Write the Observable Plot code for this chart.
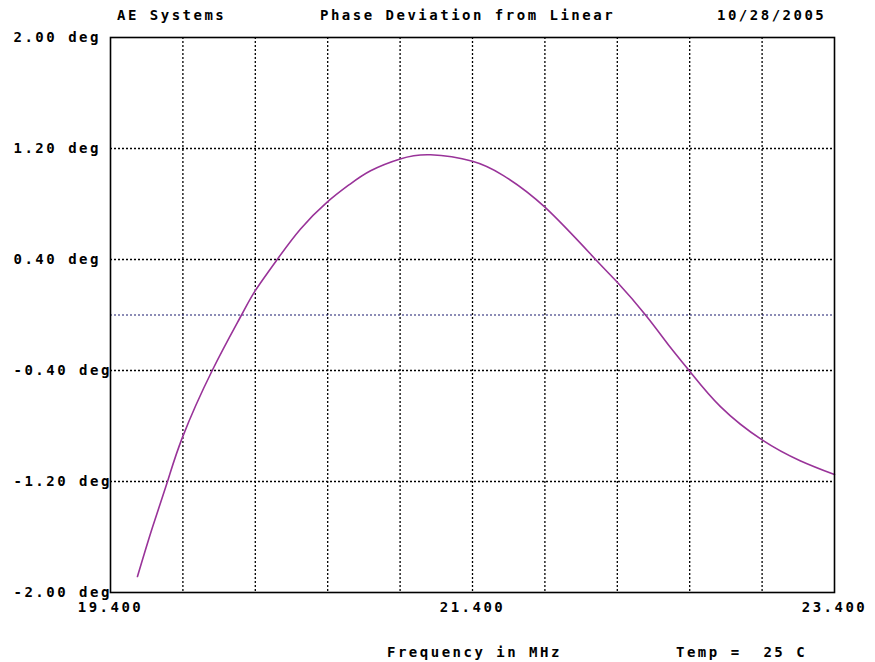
<!DOCTYPE html>
<html>
<head>
<meta charset="utf-8">
<script src="https://cdn.jsdelivr.net/npm/d3@7"></script>
<script src="https://cdn.jsdelivr.net/npm/@observablehq/plot@0.6"></script>
<style>
  html, body { margin: 0; padding: 0; background: #fff; }
  #wrap { position: relative; width: 875px; height: 662px; }
  .t { position: absolute; font-family: "DejaVu Sans Mono", monospace; font-weight: bold;
       font-size: 14px; line-height: 14px; letter-spacing: 2.5px; color: #000; white-space: pre; }
</style>
</head>
<body>
<div id="wrap">
  <div class="t" style="left:117px; top:8px;">AE Systems</div>
  <div class="t" style="left:320px; top:8px;">Phase Deviation from Linear</div>
  <div class="t" style="left:717px; top:8px;">10/28/2005</div>
  <div class="t" style="left:387px; top:645px;">Frequency in MHz</div>
  <div class="t" style="left:676px; top:645px;">Temp =  25 C</div>
</div>
<script>
const freq  = [19.549, 19.632, 19.715, 19.798, 19.962, 20.124, 20.2, 20.321, 20.45, 20.597, 20.72, 20.837, 21.0, 21.168, 21.4, 21.571, 21.8, 22.08, 22.2, 22.356, 22.494, 22.6, 22.77, 23.0, 23.21, 23.4];
const phase = [-1.885, -1.53, -1.2, -0.88, -0.40, 0.0, 0.176, 0.40, 0.62, 0.813, 0.94, 1.04, 1.125, 1.155, 1.108, 1.005, 0.777, 0.40, 0.236, 0.0, -0.235, -0.405, -0.66, -0.90, -1.05, -1.15];
const xGrid = [19.8, 20.2, 20.6, 21.0, 21.4, 21.8, 22.2, 22.6, 23.0];
const xLabels = [19.4, 21.4, 23.4];
const yTicks = [-2.0, -1.2, -0.4, 0.4, 1.2, 2.0];
const yGrid = [-1.2, -0.4, 0.4, 1.2];

const data = freq.map((f, i) => ({f, v: phase[i]}));
const fmtY = v => (v < 0 ? "-" : "") + Math.abs(v).toFixed(2) + " deg";
const fmtX = v => v.toFixed(3);
const font = "DejaVu Sans Mono, monospace";

const chart = Plot.plot({
  width: 875,
  height: 662,
  marginTop: 37,
  marginBottom: 70,
  marginLeft: 110,
  marginRight: 41,
  x: {domain: [19.4, 23.4], axis: null},
  y: {domain: [-2, 2], axis: null},
  style: {background: "#fff", fontFamily: font, fontSize: "14px", fontWeight: "bold", overflow: "visible"},
  marks: [
    Plot.ruleX(xGrid, {stroke: "#000", strokeWidth: 1.3, strokeDasharray: "2,2"}),
    Plot.ruleY(yGrid, {stroke: "#000", strokeWidth: 1.3, strokeDasharray: "2,2"}),
    Plot.ruleY([0], {stroke: "#1a1a6e", strokeWidth: 1.2, strokeDasharray: "2,2"}),
    Plot.line(data, {x: "f", y: "v", stroke: "#993399", strokeWidth: 1.6, curve: "natural"}),
    Plot.frame({stroke: "#000", strokeWidth: 1.6}),
    Plot.text(yTicks, {y: d => d, text: fmtY, frameAnchor: "left", textAnchor: "start", dx: -97,
      fill: "#000", fontFamily: font, fontSize: 14, fontWeight: "bold"}),
    Plot.text(xLabels, {x: d => d, text: fmtX, frameAnchor: "bottom", dy: 19,
      fill: "#000", fontFamily: font, fontSize: 14, fontWeight: "bold"})
  ]
});
chart.style.position = "absolute";
chart.style.left = "0";
chart.style.top = "0";
chart.querySelectorAll("text").forEach(t => t.setAttribute("letter-spacing", "2.5"));
document.getElementById("wrap").prepend(chart);
</script>
</body>
</html>
